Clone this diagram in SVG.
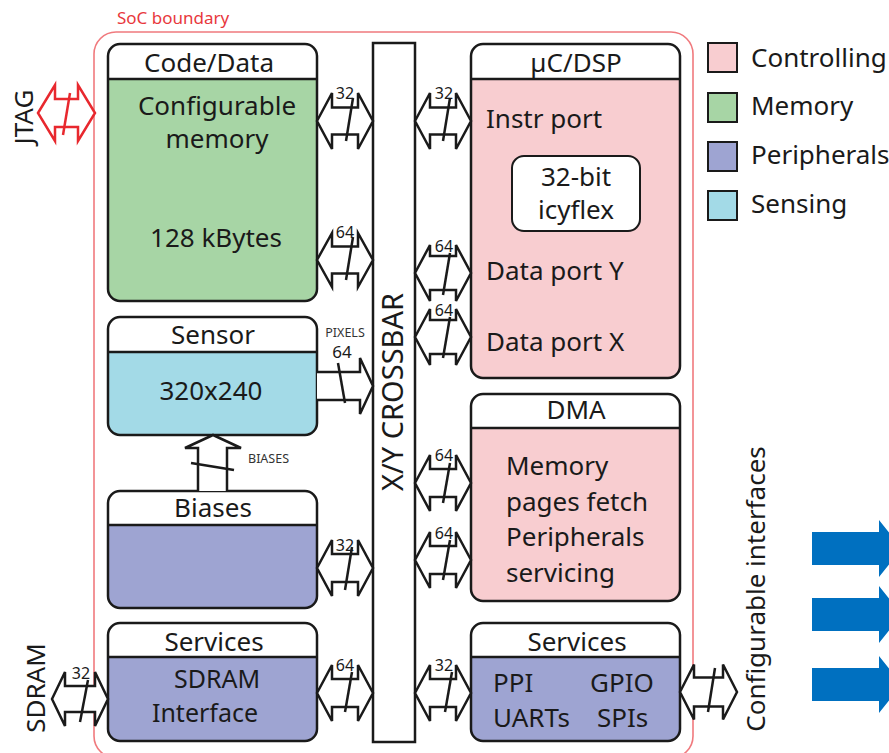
<svg xmlns="http://www.w3.org/2000/svg" width="889" height="753" viewBox="0 0 889 753">
  <defs>
    <style>
      .t { font-family: "Noto Sans", "Open Sans", sans-serif; font-size: 26px; fill: #1a1a1a; }
      .mid { text-anchor: middle; }
      .lbl { font-family: "Noto Sans", "Open Sans", sans-serif; font-size: 16px; fill: #1a1a1a; text-anchor: middle; }
      .tiny { font-family: "Noto Sans", "Open Sans", sans-serif; font-size: 12.5px; fill: #333; }
      .frame { fill: none; stroke: #1a1a1a; stroke-width: 2.5; }
      .hdr { fill: #fff; }
      .div { stroke: #1a1a1a; stroke-width: 2.5; }
      .ctl { fill: #f8cdd0; }
      .mem { fill: #a7d5a5; }
      .per { fill: #9ea4d2; }
      .sen { fill: #a3dae7; }
      .bus { fill: #fff; stroke: #1a1a1a; stroke-width: 2.5; stroke-linejoin: miter; }
      .jtag { fill: #fff; stroke: #e8282e; stroke-width: 2.5; stroke-linejoin: miter; }
      .slash { stroke: #1a1a1a; stroke-width: 2.5; }
      .out { fill: #0070c0; }
      .key { stroke: #1a1a1a; stroke-width: 2; }
    </style>
  </defs>

  <rect width="889" height="753" fill="#fff"/>

  <!-- SoC boundary -->
  <g id="soc-boundary">
    <rect x="94" y="32" width="599" height="726" rx="22" fill="none" stroke="#f07a7e" stroke-width="1.6"/>
    <text x="117" y="24" style="font-family:'Noto Sans','Open Sans',sans-serif;font-size:17px;fill:#e8383d">SoC boundary</text>
  </g>

  <!-- Crossbar -->
  <g id="crossbar">
    <rect x="373" y="43" width="42" height="699" fill="#fff" class="frame"/>
    <text class="t mid" style="font-size:29px" transform="translate(403,392) rotate(-90)">X/Y CROSSBAR</text>
  </g>

  <!-- Left column -->
  <g id="code-data">
    <rect x="108" y="44" width="209" height="257" rx="12" class="hdr"/>
    <path d="M108,79 H317 V289 A12,12 0 0 1 305,301 H120 A12,12 0 0 1 108,289 Z" class="mem"/>
    <line x1="108" y1="79" x2="317" y2="79" class="div"/>
    <rect x="108" y="44" width="209" height="257" rx="12" class="frame"/>
    <text x="209" y="72" class="t mid">Code/Data</text>
    <text x="217" y="115" class="t mid">Configurable</text>
    <text x="217" y="148" class="t mid">memory</text>
    <text x="216" y="247" class="t mid">128 kBytes</text>
  </g>

  <g id="sensor">
    <rect x="108" y="317" width="209" height="118" rx="12" class="hdr"/>
    <path d="M108,352 H317 V423 A12,12 0 0 1 305,435 H120 A12,12 0 0 1 108,423 Z" class="sen"/>
    <line x1="108" y1="352" x2="317" y2="352" class="div"/>
    <rect x="108" y="317" width="209" height="118" rx="12" class="frame"/>
    <text x="213" y="344" class="t mid">Sensor</text>
    <text x="211" y="400" class="t mid">320x240</text>
  </g>

  <g id="biases">
    <rect x="108" y="491" width="209" height="117" rx="12" class="hdr"/>
    <path d="M108,525 H317 V596 A12,12 0 0 1 305,608 H120 A12,12 0 0 1 108,596 Z" class="per"/>
    <line x1="108" y1="525" x2="317" y2="525" class="div"/>
    <rect x="108" y="491" width="209" height="117" rx="12" class="frame"/>
    <text x="213" y="517" class="t mid">Biases</text>
  </g>

  <g id="services-sdram">
    <rect x="108" y="623" width="209" height="118" rx="12" class="hdr"/>
    <path d="M108,657 H317 V729 A12,12 0 0 1 305,741 H120 A12,12 0 0 1 108,729 Z" class="per"/>
    <line x1="108" y1="657" x2="317" y2="657" class="div"/>
    <rect x="108" y="623" width="209" height="118" rx="12" class="frame"/>
    <text x="214" y="651" class="t mid">Services</text>
    <text x="217" y="688" class="t mid" style="font-size:25px">SDRAM</text>
    <text x="205" y="722" class="t mid" style="font-size:25px">Interface</text>
  </g>

  <!-- Right column -->
  <g id="uc-dsp">
    <rect x="471" y="44" width="209" height="334" rx="12" class="hdr"/>
    <path d="M471,79 H680 V366 A12,12 0 0 1 668,378 H483 A12,12 0 0 1 471,366 Z" class="ctl"/>
    <line x1="471" y1="79" x2="680" y2="79" class="div"/>
    <rect x="471" y="44" width="209" height="334" rx="12" class="frame"/>
    <text x="576" y="72" class="t mid">µC/DSP</text>
    <text x="486" y="128" class="t">Instr port</text>
    <text x="486" y="280" class="t">Data port Y</text>
    <text x="486" y="351" class="t">Data port X</text>
  </g>

  <g id="icyflex">
    <rect x="512" y="156" width="128" height="75" rx="12" fill="#fff" stroke="#1a1a1a" stroke-width="2"/>
    <text x="576" y="186" class="t mid">32-bit</text>
    <text x="576" y="219" class="t mid">icyflex</text>
  </g>

  <g id="dma">
    <rect x="471" y="394" width="209" height="207" rx="12" class="hdr"/>
    <path d="M471,428 H680 V589 A12,12 0 0 1 668,601 H483 A12,12 0 0 1 471,589 Z" class="ctl"/>
    <line x1="471" y1="428" x2="680" y2="428" class="div"/>
    <rect x="471" y="394" width="209" height="207" rx="12" class="frame"/>
    <text x="576" y="419" class="t mid">DMA</text>
    <text x="506" y="475" class="t">Memory</text>
    <text x="506" y="511" class="t">pages fetch</text>
    <text x="506" y="546" class="t">Peripherals</text>
    <text x="506" y="582" class="t">servicing</text>
  </g>

  <g id="services-io">
    <rect x="471" y="623" width="209" height="118" rx="12" class="hdr"/>
    <path d="M471,657 H680 V729 A12,12 0 0 1 668,741 H483 A12,12 0 0 1 471,729 Z" class="per"/>
    <line x1="471" y1="657" x2="680" y2="657" class="div"/>
    <rect x="471" y="623" width="209" height="118" rx="12" class="frame"/>
    <text x="577" y="651" class="t mid">Services</text>
    <text x="493" y="692" class="t">PPI</text>
    <text x="590" y="692" class="t">GPIO</text>
    <text x="493" y="727" class="t">UARTs</text>
    <text x="597" y="727" class="t">SPIs</text>
  </g>

  <!-- External labels -->
  <g id="jtag">
    <text class="t mid" transform="translate(33,117) rotate(-90)">JTAG</text>
  </g>
  <g id="sdram">
    <text class="t mid" transform="translate(45,688) rotate(-90)">SDRAM</text>
  </g>
  <g id="configurable-interfaces">
    <text class="t mid" transform="translate(765,589) rotate(-90)">Configurable interfaces</text>
  </g>

  <!-- Legend -->
  <g id="legend">
    <rect x="708" y="43" width="29" height="29" class="ctl key"/>
    <text x="751" y="67" class="t">Controlling</text>
    <rect x="708" y="93" width="29" height="29" class="mem key"/>
    <text x="751" y="115" class="t">Memory</text>
    <rect x="708" y="142" width="29" height="29" class="per key"/>
    <text x="751" y="164" class="t">Peripherals</text>
    <rect x="708" y="191" width="29" height="29" class="sen key"/>
    <text x="751" y="213" class="t">Sensing</text>
  </g>

  <!-- Bus connectors -->
  <g id="connectors">
    <!-- JTAG port -->
    <path class="jtag" d="M38,113 L55,85 L55,99 L78,99 L78,85 L95,113 L78,141 L78,127 L55,127 L55,141 Z"/>
    <line x1="70" y1="93" x2="63" y2="135" stroke="#e8282e" stroke-width="2.5"/>

    <!-- SDRAM port -->
    <path class="bus" d="M52,699 L65,672 L65,686 L95,686 L95,672 L108,699 L95,726 L95,712 L65,712 L65,726 Z"/>
    <line class="slash" x1="88" y1="680" x2="80" y2="722"/>
    <text class="lbl" x="81" y="679">32</text>

    <!-- memory to crossbar -->
    <path class="bus" d="M317,121 L332,93 L332,107.5 L358,107.5 L358,93 L373,121 L358,149 L358,134.5 L332,134.5 L332,149 Z"/>
    <line class="slash" x1="353" y1="98" x2="346" y2="141"/>
    <text class="lbl" x="345" y="99">32</text>

    <path class="bus" d="M317,260 L332,233 L332,246.5 L358,246.5 L358,233 L373,260 L358,287 L358,273.5 L332,273.5 L332,287 Z"/>
    <line class="slash" x1="353" y1="237" x2="346" y2="280"/>
    <text class="lbl" x="345" y="238">64</text>

    <!-- sensor pixels -->
    <path class="bus" d="M317,372 L360,372 L360,358 L373,386 L360,414 L360,400 L317,400"/>
    <line class="slash" x1="338" y1="363" x2="345" y2="403"/>
    <text class="tiny" x="345" y="337" text-anchor="middle">PIXELS</text>
    <text class="lbl" x="342" y="358" style="font-size:17px">64</text>

    <!-- biases to sensor -->
    <path class="bus" d="M198,491 L198,448 L185,448 L213,435 L241,448 L227,448 L227,491"/>
    <line class="slash" x1="191" y1="463" x2="234" y2="470"/>
    <text class="tiny" x="248" y="463">BIASES</text>

    <!-- biases to crossbar -->
    <path class="bus" d="M317,568 L332,540 L332,554 L358,554 L358,540 L373,568 L358,596 L358,582 L332,582 L332,596 Z"/>
    <line class="slash" x1="352" y1="547" x2="345" y2="590"/>
    <text class="lbl" x="345" y="551">32</text>

    <!-- SDRAM services to crossbar -->
    <path class="bus" d="M317,693 L332,665 L332,679 L358,679 L358,665 L373,693 L358,721 L358,707 L332,707 L332,721 Z"/>
    <line class="slash" x1="352" y1="672" x2="345" y2="712"/>
    <text class="lbl" x="345" y="671">64</text>

    <!-- crossbar to controller -->
    <path class="bus" d="M415,121 L430,93 L430,107.5 L456,107.5 L456,93 L471,121 L456,149 L456,134.5 L430,134.5 L430,149 Z"/>
    <line class="slash" x1="450" y1="98" x2="443" y2="141"/>
    <text class="lbl" x="444" y="99">32</text>

    <path class="bus" d="M415,273 L430,245 L430,256 L456,256 L456,245 L471,273 L456,301 L456,290 L430,290 L430,301 Z"/>
    <line class="slash" x1="450" y1="253" x2="443" y2="295"/>
    <text class="lbl" x="444" y="252">64</text>

    <path class="bus" d="M415,337 L430,309 L430,320 L456,320 L456,309 L471,337 L456,365 L456,354 L430,354 L430,365 Z"/>
    <line class="slash" x1="450" y1="317" x2="443" y2="358"/>
    <text class="lbl" x="444" y="316">64</text>

    <!-- crossbar to DMA -->
    <path class="bus" d="M415,483 L430,455 L430,469 L456,469 L456,455 L471,483 L456,511 L456,497 L430,497 L430,511 Z"/>
    <line class="slash" x1="450" y1="463" x2="443" y2="503"/>
    <text class="lbl" x="444" y="461">64</text>

    <path class="bus" d="M415,560 L430,532 L430,546 L456,546 L456,532 L471,560 L456,588 L456,574 L430,574 L430,588 Z"/>
    <line class="slash" x1="450" y1="540" x2="443" y2="580"/>
    <text class="lbl" x="444" y="539">64</text>

    <!-- crossbar to I/O services -->
    <path class="bus" d="M415,693 L430,665 L430,679 L456,679 L456,665 L471,693 L456,721 L456,707 L430,707 L430,721 Z"/>
    <line class="slash" x1="452" y1="672" x2="445" y2="712"/>
    <text class="lbl" x="444" y="671">32</text>

    <!-- I/O services to outside -->
    <path class="bus" d="M680,692 L694,664.5 L694,677.5 L723,677.5 L723,664.5 L737,692 L723,719.5 L723,706.5 L694,706.5 L694,719.5 Z"/>
    <line class="slash" x1="715" y1="668" x2="708" y2="712"/>

    <!-- outgoing interface arrows -->
    <path class="out" d="M812,532 H879 V520 L902,548.5 L879,577 V565 H812 Z"/>
    <path class="out" d="M812,598 H879 V586 L902,614.5 L879,643 V631 H812 Z"/>
    <path class="out" d="M812,668 H879 V656 L902,684.5 L879,713 V701 H812 Z"/>
  </g>
</svg>
